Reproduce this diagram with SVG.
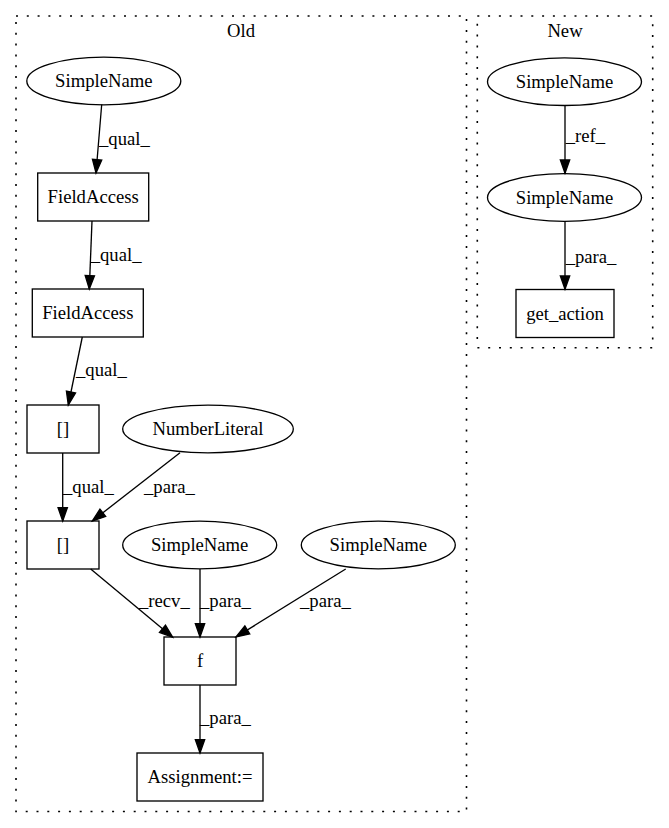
<svg xmlns="http://www.w3.org/2000/svg" width="669" height="828" viewBox="0 0 669 828">
<style>
text { font-family: "Liberation Serif", "Times New Roman", serif; font-size: 18.67px; fill: #000; }
.c { text-anchor: middle; }
.cl { fill: none; stroke: #000; stroke-width: 1.6; stroke-dasharray: 2,8.8; }
.n { fill: none; stroke: #000; stroke-width: 1.33; }
.e { fill: none; stroke: #000; stroke-width: 1.33; marker-end: url(#ah); }
</style>
<defs>
<marker id="ah" markerUnits="userSpaceOnUse" markerWidth="15" markerHeight="11" refX="13.33" refY="4.67" orient="auto" overflow="visible">
<path d="M0,0 L13.33,4.67 L0,9.33 z" fill="#000" stroke="#000" stroke-width="1.33"/>
</marker>
</defs>
<rect width="669" height="828" fill="#fff"/>
<g id="cluster_old">
<rect class="cl" x="16" y="16" width="450.5" height="795.5"/>
<text class="c" x="241" y="36.5">Old</text>
</g>
<g id="cluster_new">
<rect class="cl" x="477.3" y="16" width="175.4" height="331.7"/>
<text class="c" x="565" y="36.5">New</text>
</g>
<g id="edges">
<path class="e" d="M101.7,104.5 L96,173"/>
<text x="99" y="145">_qual_</text>
<path class="e" d="M92,221 L89.3,289"/>
<text x="90.7" y="261">_qual_</text>
<path class="e" d="M82.3,337 L68.3,405"/>
<text x="76" y="376">_qual_</text>
<path class="e" d="M62.7,453 L62.7,521"/>
<text x="63" y="493">_qual_</text>
<path class="e" d="M180,452.7 L92.3,521"/>
<text x="144" y="493">_para_</text>
<path class="e" d="M90.7,569 L172.7,637.3"/>
<text x="139" y="607">_recv_</text>
<path class="e" d="M200,569 L200,637"/>
<text x="200" y="607">_para_</text>
<path class="e" d="M345.7,569 L236,637"/>
<text x="300" y="607">_para_</text>
<path class="e" d="M200,685 L200,753"/>
<text x="200" y="724">_para_</text>
<path class="e" d="M565,106 L565,173.3"/>
<text x="565.7" y="142">_ref_</text>
<path class="e" d="M565,221.7 L565,289.3"/>
<text x="565.7" y="263">_para_</text>
</g>
<g id="old_simplename1">
<ellipse class="n" cx="103.8" cy="81" rx="77" ry="23.8"/>
<text class="c" x="103.8" y="87">SimpleName</text>
</g>
<g id="old_fieldaccess1">
<rect class="n" x="37.7" y="173" width="111" height="48"/>
<text class="c" x="93.2" y="203">FieldAccess</text>
</g>
<g id="old_fieldaccess2">
<rect class="n" x="32.3" y="289" width="111" height="48"/>
<text class="c" x="87.8" y="319">FieldAccess</text>
</g>
<g id="old_index1">
<rect class="n" x="27" y="405" width="72" height="48"/>
<text class="c" x="63" y="435">[]</text>
</g>
<g id="old_numberliteral">
<ellipse class="n" cx="208" cy="429" rx="85.3" ry="23.8"/>
<text class="c" x="208" y="435">NumberLiteral</text>
</g>
<g id="old_index2">
<rect class="n" x="27" y="521" width="72" height="48"/>
<text class="c" x="63" y="551">[]</text>
</g>
<g id="old_simplename2">
<ellipse class="n" cx="199.7" cy="545" rx="77" ry="23.8"/>
<text class="c" x="199.7" y="551">SimpleName</text>
</g>
<g id="old_simplename3">
<ellipse class="n" cx="378.3" cy="545" rx="77" ry="23.8"/>
<text class="c" x="378.3" y="551">SimpleName</text>
</g>
<g id="old_f">
<rect class="n" x="164" y="637" width="72" height="48"/>
<text class="c" x="200" y="667">f</text>
</g>
<g id="old_assignment">
<rect class="n" x="137" y="753" width="126" height="48"/>
<text class="c" x="200" y="783">Assignment:=</text>
</g>
<g id="new_simplename1">
<ellipse class="n" cx="564.5" cy="81.7" rx="77" ry="23.8"/>
<text class="c" x="564.5" y="87.7">SimpleName</text>
</g>
<g id="new_simplename2">
<ellipse class="n" cx="564.5" cy="197.5" rx="77" ry="23.8"/>
<text class="c" x="564.5" y="203.5">SimpleName</text>
</g>
<g id="new_get_action">
<rect class="n" x="516" y="289.5" width="98" height="48"/>
<text class="c" x="565" y="319.5">get_action</text>
</g>
</svg>
